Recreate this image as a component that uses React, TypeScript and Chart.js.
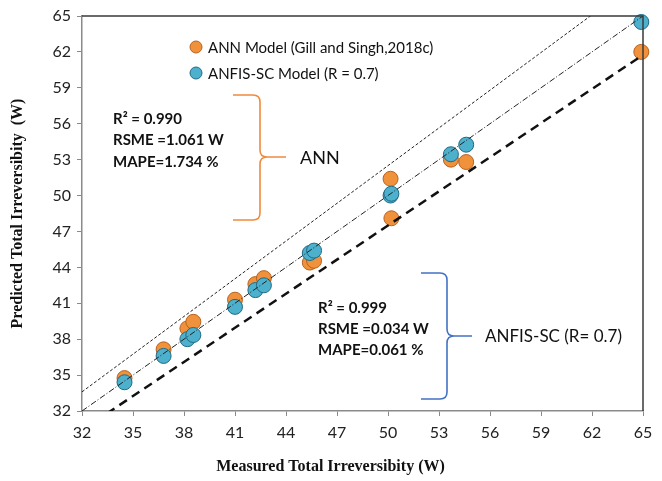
import { useEffect, useRef } from 'react';
import { Chart, registerables } from 'chart.js';

Chart.register(...registerables);

// Measured vs predicted total irreversibility (W)
const measured = [34.5, 36.8, 38.2, 38.55, 41.0, 42.2, 42.7, 45.4, 45.65, 50.15, 50.2, 53.7, 54.6, 64.9];
const annPredicted = [34.75, 37.15, 38.9, 39.45, 41.3, 42.6, 43.1, 44.4, 44.55, 51.4, 48.1, 53.0, 52.8, 62.0];
const anfisPredicted = [34.4, 36.6, 38.0, 38.35, 40.7, 42.1, 42.5, 45.2, 45.4, 50.0, 50.15, 53.45, 54.25, 64.5];

const axisTicks = [32, 35, 38, 41, 44, 47, 50, 53, 56, 59, 62, 65];
const refLineX = [32, 65];
const upperFactor = 1.05;
const idealFactor = 1.0;
const lowerFactor = 0.95;

const legendLabels = ['ANN Model (Gill and Singh,2018c)', 'ANFIS-SC Model (R = 0.7)'];
const annStats = ['R² = 0.990', 'RSME =1.061 W', 'MAPE=1.734 %'];
const anfisStats = ['R² = 0.999', 'RSME =0.034 W', 'MAPE=0.061 %'];
const annLabel = 'ANN';
const anfisLabel = 'ANFIS-SC (R= 0.7)';

const ORANGE = '#F0923C';
const ORANGE_EDGE = '#B8611F';
const BLUE = '#4DB0CC';
const BLUE_EDGE = '#1F6A86';
const SANS = 'Lato, "Noto Sans", sans-serif';
const SERIF = '"Liberation Serif", "Times New Roman", serif';

const annotationPlugin = {
  id: 'annotations',
  afterDraw(chart: any) {
    const ctx = chart.ctx as CanvasRenderingContext2D;
    const a = chart.chartArea;
    ctx.save();
    // frame top/right
    ctx.strokeStyle = '#3a3a3a';
    ctx.lineWidth = 1.5;
    ctx.beginPath();
    ctx.moveTo(a.left, a.top);
    ctx.lineTo(a.right, a.top);
    ctx.lineTo(a.right, a.bottom);
    ctx.stroke();

    // legend
    const items = [
      { fill: ORANGE, edge: ORANGE_EDGE, text: legendLabels[0], y: 47 },
      { fill: BLUE, edge: BLUE_EDGE, text: legendLabels[1], y: 73 },
    ];
    ctx.font = `15px ${SANS}`;
    ctx.textBaseline = 'middle';
    ctx.textAlign = 'left';
    items.forEach((it) => {
      ctx.beginPath();
      ctx.arc(196, it.y, 6, 0, Math.PI * 2);
      ctx.fillStyle = it.fill;
      ctx.fill();
      ctx.lineWidth = 1;
      ctx.strokeStyle = it.edge;
      ctx.stroke();
      ctx.fillStyle = '#111';
      ctx.fillText(it.text, 208, it.y + 1);
    });

    // stats text
    ctx.font = `bold 15px ${SANS}`;
    annStats.forEach((s, i) => ctx.fillText(s, 113, 119 + i * 21.5));
    anfisStats.forEach((s, i) => ctx.fillText(s, 318, 308 + i * 21));

    // braces
    const brace = (x0: number, xv: number, xt: number, yTop: number, yMid: number, yBot: number, color: string) => {
      const r = 7;
      ctx.strokeStyle = color;
      ctx.lineWidth = 1.6;
      ctx.beginPath();
      ctx.moveTo(x0, yTop);
      ctx.lineTo(xv - r, yTop);
      ctx.quadraticCurveTo(xv, yTop, xv, yTop + r);
      ctx.lineTo(xv, yMid - r);
      ctx.quadraticCurveTo(xv, yMid, xv + r, yMid);
      ctx.lineTo(xt, yMid);
      ctx.moveTo(xv + r, yMid);
      ctx.quadraticCurveTo(xv, yMid, xv, yMid + r);
      ctx.lineTo(xv, yBot - r);
      ctx.quadraticCurveTo(xv, yBot, xv - r, yBot);
      ctx.lineTo(x0, yBot);
      ctx.stroke();
    };
    brace(233, 260, 286, 95, 157, 220, '#F08A3C');
    brace(421, 447, 472, 273, 336, 399, '#4472C4');

    ctx.fillStyle = '#111';
    ctx.font = `18px ${SANS}`;
    ctx.fillText(annLabel, 300, 158);
    ctx.font = `17px ${SANS}`;
    ctx.fillText(anfisLabel, 485, 337);
    ctx.restore();
  },
};

export default function App() {
  const ref = useRef<HTMLCanvasElement | null>(null);
  useEffect(() => {
    if (!ref.current) return;
    const pts = (ys: number[]) => measured.map((x, i) => ({ x, y: ys[i] }));
    const line = (f: number) => refLineX.map((x) => ({ x, y: x * f }));
    const chart = new Chart(ref.current, {
      type: 'scatter',
      data: {
        datasets: [
          {
            type: 'line',
            label: '+5%',
            data: line(upperFactor),
            borderColor: '#222',
            borderWidth: 1,
            borderDash: [3, 2],
            pointRadius: 0,
            order: 0,
          },
          {
            type: 'line',
            label: 'ideal',
            data: line(idealFactor),
            borderColor: '#222',
            borderWidth: 1,
            borderDash: [6, 2, 1, 2],
            pointRadius: 0,
            order: 0,
          },
          {
            type: 'line',
            label: '-5%',
            data: line(lowerFactor),
            borderColor: '#111',
            borderWidth: 2.5,
            borderDash: [9, 6],
            pointRadius: 0,
            order: 0,
          },
          {
            label: legendLabels[1],
            data: pts(anfisPredicted),
            backgroundColor: BLUE,
            borderColor: BLUE_EDGE,
            borderWidth: 1,
            pointRadius: 7.5,
            clip: false,
            order: 1,
          },
          {
            label: legendLabels[0],
            data: pts(annPredicted),
            backgroundColor: ORANGE,
            borderColor: ORANGE_EDGE,
            borderWidth: 1,
            pointRadius: 7.5,
            clip: false,
            order: 2,
          },
        ],
      } as any,
      options: {
        animation: false,
        responsive: true,
        maintainAspectRatio: false,
        layout: { padding: { top: 16, right: 19, left: 0, bottom: 0 } },
        plugins: { legend: { display: false }, tooltip: { enabled: false } },
        scales: {
          x: {
            type: 'linear',
            min: 32,
            max: 65,
            afterBuildTicks: (s: any) => {
              s.ticks = axisTicks.map((v) => ({ value: v }));
            },
            afterFit: (s: any) => {
              s.height = 70;
            },
            ticks: { font: { family: SANS, size: 16 }, color: '#222', padding: 7, maxRotation: 0 },
            grid: { drawOnChartArea: false, tickLength: 5, color: '#8a8a8a' },
            border: { color: '#8a8a8a', width: 1.5 },
            title: {
              display: true,
              text: 'Measured Total Irreversibity (W)' + '\u00a0'.repeat(16),
              font: { family: SERIF, size: 16, weight: 'bold' },
              color: '#111',
              padding: { top: 0, bottom: 5 },
            },
          },
          y: {
            type: 'linear',
            min: 32,
            max: 65,
            afterBuildTicks: (s: any) => {
              s.ticks = axisTicks.map((v) => ({ value: v }));
            },
            afterFit: (s: any) => {
              s.width = 82;
            },
            ticks: { font: { family: SANS, size: 16 }, color: '#222', padding: 6 },
            grid: { drawOnChartArea: false, tickLength: 5, color: '#8a8a8a' },
            border: { color: '#8a8a8a', width: 1.5 },
            title: {
              display: true,
              text: 'Predicted Total Irreversibity  (W)',
              font: { family: SERIF, size: 16, weight: 'bold' },
              color: '#111',
              padding: { top: 8, bottom: 0 },
            },
          },
        },
      } as any,
      plugins: [annotationPlugin],
    });
    return () => chart.destroy();
  }, []);
  return (
    <div style={{ position: 'absolute', left: 0, top: 0, width: 662, height: 481, background: '#fff' }}>
      <canvas ref={ref} />
    </div>
  );
}
